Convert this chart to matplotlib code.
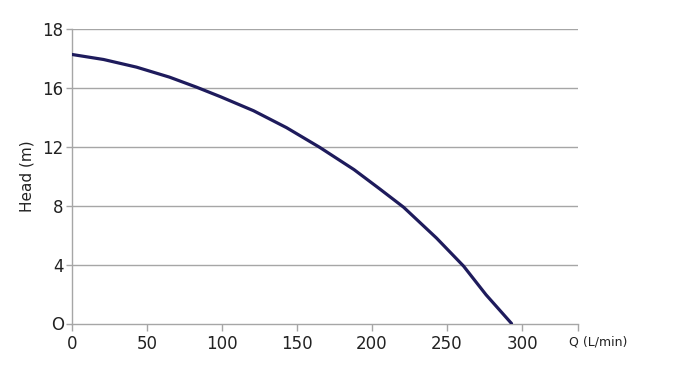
import matplotlib
matplotlib.use("Agg")
import matplotlib.pyplot as plt

# Data (head in chart axis units)
flow = [0, 21, 43, 65, 83, 99, 121, 143, 165, 188, 205, 221, 243, 261, 276, 293]
head = [18.27, 17.93, 17.41, 16.73, 16.05, 15.4, 14.45, 13.3, 11.97, 10.45, 9.15,
        7.9, 5.8, 3.9, 1.95, 0.0]

x_ticks = [0, 50, 100, 150, 200, 250, 300]
x_tick_labels = ["0", "50", "100", "150", "200", "250", "300"]
y_ticks = [0, 4, 8, 12, 16, 20]
y_tick_labels = ["O", "4", "8", "12", "16", "18"]
x_end = 337.3

plt.rcParams['font.family'] = ['DejaVu Sans']

fig = plt.figure(figsize=(6.89, 3.71), dpi=100)
ax = fig.add_axes([72/689, (371-323.5)/371, (578-72)/689, (323.5-29)/371])

grid_c = "#a6a6a6"
for y in y_ticks[1:]:
    ax.axhline(y, color=grid_c, lw=1.0, zorder=1)

ax.plot(flow, head, color="#1e1b5c", lw=2.3, solid_capstyle="round",
        solid_joinstyle="round", zorder=3)

ax.set_xlim(0, x_end)
ax.set_ylim(0, 20)
ax.set_xticks(x_ticks + [x_end])
ax.set_xticklabels(x_tick_labels + [""])
ax.set_yticks(y_ticks)
ax.set_yticklabels(y_tick_labels)

for s in ["top", "right"]:
    ax.spines[s].set_visible(False)
for s in ["left", "bottom"]:
    ax.spines[s].set_color(grid_c)
    ax.spines[s].set_linewidth(1.0)

ax.tick_params(axis="x", direction="out", length=5, width=1, color=grid_c,
               labelsize=12, labelcolor="#222222", pad=3)
ax.tick_params(axis="y", direction="out", length=4, width=1, color=grid_c,
               labelsize=12, labelcolor="#222222", pad=2)

ax.set_ylabel("Head (m)", fontsize=11, color="#222222", labelpad=6)
fig.text(598/689, 1 - 342/371, "Q (L/min)", fontsize=9, color="#222222",
         ha="center", va="center")

fig.savefig("out.png", dpi=100)
